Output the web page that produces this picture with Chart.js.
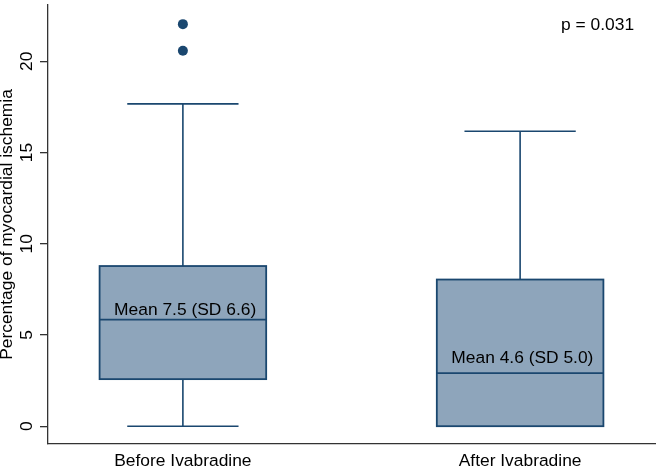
<!DOCTYPE html>
<html>
<head>
<meta charset="utf-8">
<script src="https://cdn.jsdelivr.net/npm/chart.js@4"></script>
<style>
  html, body { margin: 0; padding: 0; background: #fff; }
  #wrap { width: 660px; height: 469px; }
</style>
</head>
<body>
<div id="wrap"><canvas id="boxChart"></canvas></div>
<script>
// Data
const groups = ["Before Ivabradine", "After Ivabradine"];
const whiskerLow = [0, 0];
const q1 = [2.58, 0];
const median = [5.84, 2.91];
const q3 = [8.78, 8.04];
const whiskerHigh = [17.67, 16.17];
const outliersBefore = [22.04, 20.58];
const outliersAfter = [];
const yTicks = [0, 5, 10, 15, 20];
const meanLabels = ["Mean 7.5 (SD 6.6)", "Mean 4.6 (SD 5.0)"];
const meanLabelY = [6.12, 3.49];
const pLabel = "p = 0.031";

const navy = "#1a476f";
const boxFill = "#8ea5bb";
const axisColor = "#333333";
const font = "Liberation Sans, Arial, sans-serif";
const fontSize = 17.4;

// Boxes, whiskers, rotated y labels and text notes
const boxPlugin = {
  id: "boxPlugin",
  beforeDatasetsDraw(chart) {
    const ctx = chart.ctx;
    const x = chart.scales.x;
    const y = chart.scales.y;
    ctx.save();
    groups.forEach((g, i) => {
      const pos = i + 1;
      const cx = x.getPixelForValue(pos);
      const bl = x.getPixelForValue(pos - 0.247);
      const br = x.getPixelForValue(pos + 0.247);
      const cl = x.getPixelForValue(pos - 0.165);
      const cr = x.getPixelForValue(pos + 0.165);
      ctx.strokeStyle = navy;
      ctx.lineWidth = 1.6;
      // whiskers
      ctx.beginPath();
      ctx.moveTo(cx, y.getPixelForValue(q3[i]));
      ctx.lineTo(cx, y.getPixelForValue(whiskerHigh[i]));
      ctx.moveTo(cl, y.getPixelForValue(whiskerHigh[i]));
      ctx.lineTo(cr, y.getPixelForValue(whiskerHigh[i]));
      ctx.moveTo(cx, y.getPixelForValue(q1[i]));
      ctx.lineTo(cx, y.getPixelForValue(whiskerLow[i]));
      ctx.moveTo(cl, y.getPixelForValue(whiskerLow[i]));
      ctx.lineTo(cr, y.getPixelForValue(whiskerLow[i]));
      ctx.stroke();
      // box
      const top = y.getPixelForValue(q3[i]);
      const bot = y.getPixelForValue(q1[i]);
      ctx.fillStyle = boxFill;
      ctx.fillRect(bl, top, br - bl, bot - top);
      ctx.lineWidth = 1.8;
      ctx.strokeRect(bl, top, br - bl, bot - top);
      ctx.lineWidth = 1.6;
      ctx.beginPath();
      ctx.moveTo(bl, y.getPixelForValue(median[i]));
      ctx.lineTo(br, y.getPixelForValue(median[i]));
      ctx.stroke();
    });
    ctx.restore();
  },
  afterDraw(chart) {
    const ctx = chart.ctx;
    const x = chart.scales.x;
    const y = chart.scales.y;
    ctx.save();
    ctx.fillStyle = "#000";
    ctx.font = fontSize + "px " + font;
    // y tick labels, rotated like the original
    yTicks.forEach((t) => {
      ctx.save();
      ctx.translate(32, y.getPixelForValue(t));
      ctx.rotate(-Math.PI / 2);
      ctx.textAlign = "center";
      ctx.textBaseline = "alphabetic";
      ctx.fillText(String(t), 0, 0);
      ctx.restore();
    });
    // mean labels
    ctx.textAlign = "left";
    ctx.textBaseline = "alphabetic";
    meanLabels.forEach((m, i) => {
      ctx.fillText(m, x.getPixelForValue(i + 1 - 0.204), y.getPixelForValue(meanLabelY[i]));
    });
    // p value
    ctx.textAlign = "right";
    ctx.fillText(pLabel, x.getPixelForValue(2.338), y.getPixelForValue(21.73));
    ctx.restore();
  }
};

const outlierPoints = [];
outliersBefore.forEach((v) => outlierPoints.push({ x: 1, y: v }));
outliersAfter.forEach((v) => outlierPoints.push({ x: 2, y: v }));

new Chart(document.getElementById("boxChart"), {
  type: "scatter",
  data: {
    datasets: [
      {
        label: "Outliers",
        data: outlierPoints,
        backgroundColor: navy,
        borderColor: navy,
        pointRadius: 5,
        pointBorderWidth: 0,
      },
    ],
  },
  options: {
    responsive: true,
    maintainAspectRatio: false,
    animation: false,
    layout: { padding: 0 },
    plugins: {
      legend: { display: false },
      tooltip: { enabled: false },
    },
    scales: {
      x: {
        type: "linear",
        min: 0.6,
        max: 2.4,
        afterBuildTicks: (s) => { s.ticks = groups.map((g, i) => ({ value: i + 1 })); },
        afterFit: (s) => { s.height = 25; s.paddingLeft = 0; s.paddingRight = 0; },
        grid: { display: false, drawTicks: false },
        border: { display: true, color: axisColor, width: 1.3 },
        ticks: {
          padding: 7,
          color: "#000",
          font: { family: font, size: fontSize },
          maxRotation: 0,
          autoSkip: false,
          callback: (v) => groups[Math.round(v) - 1] || "",
        },
      },
      y: {
        min: -0.976,
        max: 23.09,
        afterBuildTicks: (s) => { s.ticks = yTicks.map((v) => ({ value: v })); },
        afterFit: (s) => { s.width = 48; s.paddingTop = 0; s.paddingBottom = 0; },
        grid: {
          drawOnChartArea: false,
          drawTicks: true,
          tickLength: 8,
          color: axisColor,
          lineWidth: 1.3,
        },
        border: { display: true, color: axisColor, width: 1.3 },
        ticks: { display: false },
        title: {
          display: true,
          text: "Percentage of myocardial ischemia",
          color: "#000",
          font: { family: font, size: fontSize, lineHeight: 0.85 },
          padding: 0,
        },
      },
    },
  },
  plugins: [boxPlugin],
});
</script>
</body>
</html>
